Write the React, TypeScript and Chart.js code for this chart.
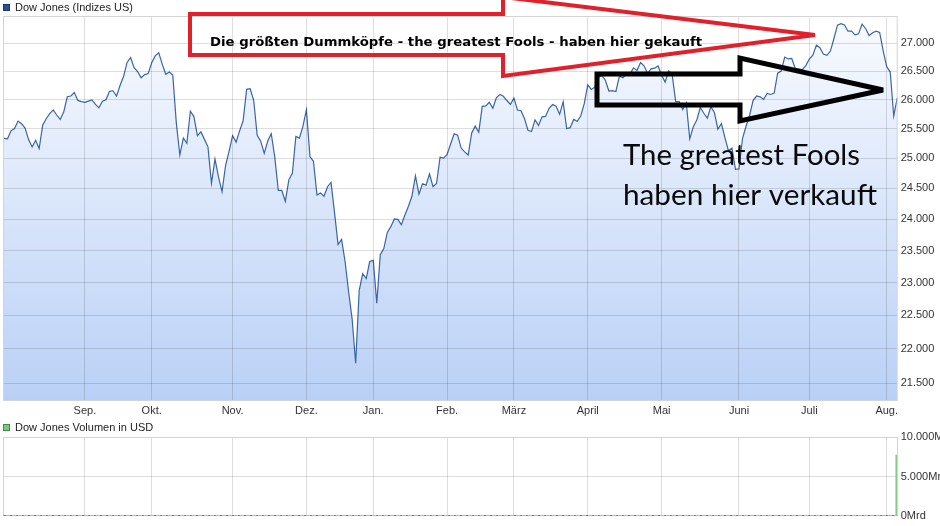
import React, { useEffect, useRef } from "react";
import { Chart, registerables } from "chart.js";

Chart.register(...registerables);

// Dow Jones daily closes, 1 Aug 2018 – 6 Aug 2019 (one value per trading day)
const closes: number[] = [
  // Aug 2018
  25334, 25326, 25463, 25502, 25629, 25584, 25509, 25313, 25188, 25300, 25162, 25559,
  25669, 25759, 25822, 25734, 25657, 25790, 26050, 26064, 26125, 25987, 25965,
  // Sep 2018
  25952, 25975, 25996, 25917, 25857, 25971, 25999, 26146, 26155, 26062, 26247, 26406,
  26657, 26744, 26562, 26492, 26385, 26440, 26458,
  // Oct 2018
  26651, 26774, 26828, 26627, 26447, 26487, 26431, 25599, 25053, 25340, 25251, 25798,
  25707, 25379, 25444, 25317, 25191, 24583, 24985, 24688, 24443, 24875, 25116,
  // Nov 2018
  25381, 25271, 25462, 25635, 26180, 26191, 25989, 25387, 25286, 25081, 25289, 25413,
  25017, 24466, 24465, 24286, 24640, 24749, 25366, 25339, 25538,
  // Dec 2018
  25826, 25027, 24948, 24389, 24423, 24370, 24527, 24597, 24101, 23593, 23676, 23324,
  22860, 22445, 21792, 22878, 23139, 23062, 23327,
  // Jan 2019
  23346, 22686, 23433, 23531, 23787, 23879, 24002, 23996, 23910, 24066, 24207, 24370,
  24706, 24404, 24576, 24553, 24737, 24528, 24580, 25015, 25000,
  // Feb 2019
  25064, 25239, 25412, 25390, 25170, 25106, 25053, 25426, 25543, 25439, 25883, 25891,
  25954, 25851, 26032, 26092, 26058, 25985, 25916,
  // Mar 2019
  26026, 25820, 25807, 25673, 25473, 25450, 25651, 25555, 25703, 25710, 25849, 25914,
  25887, 25746, 25963, 25502, 25517, 25658, 25626, 25717, 25929,
  // Apr 2019
  26258, 26179, 26218, 26385, 26425, 26341, 26151, 26157, 26143, 26412, 26385, 26453,
  26450, 26560, 26511, 26656, 26597, 26462, 26543, 26554, 26593,
  // May 2019
  26430, 26308, 26505, 26438, 25965, 25967, 25828, 25942, 25325, 25532, 25648, 25863,
  25764, 25680, 25877, 25777, 25490, 25586, 25348, 25126, 25170, 24815,
  // Jun 2019
  24820, 25332, 25540, 25721, 25984, 26063, 26049, 26005, 26107, 26090, 26113, 26466,
  26504, 26753, 26719, 26728, 26548, 26537, 26527, 26600,
  // Jul 2019
  26717, 26787, 26966, 26922, 26806, 26783, 26860, 27088, 27332, 27359, 27336, 27220,
  27223, 27154, 27172, 27349, 27270, 27141, 27192, 27221, 27198, 26864,
  // Aug 2019
  26583, 26485, 25718, 26030,
];

// trading-day index of the first session of each month
const monthStarts = [23, 42, 65, 86, 105, 126, 145, 166, 187, 209, 229, 251];
const monthLabels = ["Sep.", "Okt.", "Nov.", "Dez.", "Jan.", "Feb.", "März", "April", "Mai", "Juni", "Juli", "Aug."];

const priceTicks = [21500, 22000, 22500, 23000, 23500, 24000, 24500, 25000, 25500, 26000, 26500, 27000];

// turnover (Mrd USD) – only the latest session is reported
const volumeDays = [254];
const volumeMrd = [7.7];
const volumeTicks = [0, 5, 10];

const X_MIN = -0.28;
const X_MAX = 254.13;
const Y_MIN = 21246;
const Y_MAX = 27499;

const LABEL_FONT = '"Liberation Sans", Arial, sans-serif';
const GRID = "rgba(0,0,0,0.13)";
const FRAME = "#d4d4d4";
const AXIS_W = 42.3;

function deThousands(v: number): string {
  if (v < 1000) return String(v);
  const k = Math.floor(v / 1000);
  const r = Math.round(v % 1000);
  return `${k}.${String(r).padStart(3, "0")}`;
}

function legendPlugin(id: string, text: string, fill: string, stroke: string, cy: number) {
  return {
    id,
    afterDraw(chart: any) {
      const ctx = chart.ctx as CanvasRenderingContext2D;
      ctx.save();
      ctx.fillStyle = fill;
      ctx.fillRect(3, cy - 3.5, 7, 7);
      ctx.strokeStyle = stroke;
      ctx.lineWidth = 1;
      ctx.strokeRect(3.5, cy - 3, 6, 6);
      ctx.fillStyle = "#222";
      ctx.font = `11px ${LABEL_FONT}`;
      ctx.textBaseline = "middle";
      ctx.fillText(text, 15, cy + 0.5);
      ctx.restore();
    },
  };
}

const priceFrame = {
  id: "priceFrame",
  afterDraw(chart: any) {
    const { left, right, top, bottom } = chart.chartArea;
    const ctx = chart.ctx as CanvasRenderingContext2D;
    ctx.save();
    ctx.strokeStyle = FRAME;
    ctx.lineWidth = 1;
    ctx.strokeRect(Math.round(left) + 0.5, Math.round(top) + 0.5, right - left - 1, bottom - top - 1);
    ctx.restore();
  },
};

function poly(ctx: CanvasRenderingContext2D, pts: number[][]) {
  ctx.beginPath();
  pts.forEach(([x, y], i) => (i === 0 ? ctx.moveTo(x, y) : ctx.lineTo(x, y)));
  ctx.closePath();
  ctx.stroke();
}

function fitText(ctx: CanvasRenderingContext2D, text: string, x: number, y: number, width: number) {
  const w = ctx.measureText(text).width;
  ctx.save();
  ctx.translate(x, y);
  ctx.scale(width / w, 1);
  ctx.fillText(text, 0, 0);
  ctx.restore();
}

// callout arrows and captions over the price panel
const callouts = {
  id: "callouts",
  afterDraw(chart: any) {
    const ctx = chart.ctx as CanvasRenderingContext2D;
    ctx.save();
    ctx.lineJoin = "miter";
    ctx.miterLimit = 2;

    ctx.strokeStyle = "#e0212b";
    ctx.lineWidth = 4;
    poly(ctx, [[190, 14], [503, 14], [503, -3], [815, 35], [503, 76], [503, 55], [190, 55]]);

    ctx.strokeStyle = "#000";
    ctx.lineWidth = 5;
    poly(ctx, [[597, 74], [740, 74], [740, 58], [883, 90], [740, 121], [740, 105], [597, 105]]);

    ctx.fillStyle = "#000";
    ctx.textBaseline = "alphabetic";
    ctx.font = 'bold 13px "DejaVu Sans", sans-serif';
    fitText(ctx, "Die größten Dummköpfe - the greatest Fools - haben hier gekauft", 210, 45.5, 492);

    ctx.fillStyle = "#0a0a0a";
    ctx.font = '28px Lato, "Open Sans", sans-serif';
    fitText(ctx, "The greatest Fools", 623, 165, 237);
    fitText(ctx, "haben hier verkauft", 623, 205, 254);
    ctx.restore();
  },
};

const volumeFrame = {
  id: "volumeFrame",
  afterDraw(chart: any) {
    const { left, right, top, bottom } = chart.chartArea;
    const ctx = chart.ctx as CanvasRenderingContext2D;
    ctx.save();
    ctx.strokeStyle = FRAME;
    ctx.lineWidth = 1;
    const l = Math.round(left) + 0.5;
    const r = Math.round(right) - 0.5;
    const t = Math.round(top) + 0.5;
    const b = Math.round(bottom) - 0.5;
    ctx.beginPath();
    ctx.moveTo(l, b);
    ctx.lineTo(l, t);
    ctx.lineTo(r, t);
    ctx.lineTo(r, b);
    ctx.stroke();
    ctx.setLineDash([3, 3]);
    ctx.strokeStyle = "#c0604a";
    ctx.beginPath();
    ctx.moveTo(l, b);
    ctx.lineTo(r, b);
    ctx.stroke();
    ctx.strokeStyle = "#8ccf8c";
    ctx.lineDashOffset = 3;
    ctx.beginPath();
    ctx.moveTo(l, b);
    ctx.lineTo(r, b);
    ctx.stroke();
    ctx.restore();
  },
};

function monthTicks(scale: any) {
  scale.ticks = monthStarts.map((v) => ({ value: v }));
}

export default function App() {
  const priceRef = useRef<HTMLCanvasElement>(null);
  const volRef = useRef<HTMLCanvasElement>(null);

  useEffect(() => {
    Chart.defaults.font.family = LABEL_FONT;
    Chart.defaults.font.size = 11;
    Chart.defaults.color = "#333";

    const price = new Chart(priceRef.current as HTMLCanvasElement, {
      type: "line",
      data: {
        datasets: [
          {
            data: closes.map((v, i) => ({ x: i, y: v })),
            borderColor: "#3a65a7",
            borderWidth: 1.2,
            pointRadius: 0,
            tension: 0,
            fill: "start",
            backgroundColor: (c: any) => {
              const area = c.chart.chartArea;
              if (!area) return "rgba(0,0,0,0)";
              const g = c.chart.ctx.createLinearGradient(0, area.top, 0, area.bottom);
              g.addColorStop(0, "rgb(249,251,255)");
              g.addColorStop(1, "rgb(185,208,246)");
              return g;
            },
          },
        ],
      },
      options: {
        animation: false,
        responsive: false,
        devicePixelRatio: 1,
        layout: { padding: { left: 3, top: 16, right: 0, bottom: 0 } },
        plugins: { legend: { display: false }, tooltip: { enabled: false } },
        scales: {
          x: {
            type: "linear",
            min: X_MIN,
            max: X_MAX,
            afterBuildTicks: monthTicks,
            afterFit: (s: any) => {
              s.height = 19;
            },
            grid: { color: GRID, drawTicks: false, z: 1 },
            border: { display: false },
            ticks: {
              autoSkip: false,
              maxRotation: 0,
              padding: 3,
              color: "#333",
              callback: (_v: any, i: number) => monthLabels[i],
            },
          },
          y: {
            type: "logarithmic",
            position: "right",
            min: Y_MIN,
            max: Y_MAX,
            bounds: "data",
            afterBuildTicks: (s: any) => {
              s.ticks = priceTicks.map((v) => ({ value: v }));
            },
            afterFit: (s: any) => {
              s.width = AXIS_W;
            },
            grid: { color: GRID, drawTicks: false, z: 1 },
            border: { display: false },
            ticks: {
              autoSkip: false,
              padding: 3,
              color: "#333",
              callback: (v: any) => deThousands(Number(v)),
            },
          },
        },
      },
      plugins: [priceFrame, legendPlugin("priceLegend", "Dow Jones (Indizes US)", "#2a4f9b", "#1b3670", 7.5), callouts],
    } as any);

    const volume = new Chart(volRef.current as HTMLCanvasElement, {
      type: "bar",
      data: {
        datasets: [
          {
            data: volumeDays.map((d, i) => ({ x: d, y: volumeMrd[i] })),
            backgroundColor: "#86cc86",
            barThickness: 3,
          },
        ],
      },
      options: {
        animation: false,
        responsive: false,
        devicePixelRatio: 1,
        layout: { padding: { left: 3, top: 17, right: 0, bottom: 10 } },
        plugins: { legend: { display: false }, tooltip: { enabled: false } },
        scales: {
          x: {
            type: "linear",
            min: X_MIN,
            max: X_MAX,
            offset: false,
            afterBuildTicks: monthTicks,
            afterFit: (s: any) => {
              s.height = 0;
            },
            grid: { color: GRID, drawTicks: false, offset: false },
            border: { display: false },
            ticks: { display: false, autoSkip: false },
          },
          y: {
            position: "right",
            min: 0,
            max: 10,
            afterBuildTicks: (s: any) => {
              s.ticks = volumeTicks.map((v) => ({ value: v }));
            },
            afterFit: (s: any) => {
              s.width = AXIS_W;
            },
            grid: {
              color: (c: any) => (c.tick && c.tick.value === 0 ? "rgba(0,0,0,0)" : GRID),
              drawTicks: false,
            },
            border: { display: false },
            ticks: {
              autoSkip: false,
              padding: 3,
              color: "#333",
              callback: (v: any) => (Number(v) === 0 ? "0Mrd" : `${deThousands(Number(v) * 1000)}Mrd`),
            },
          },
        },
      },
      plugins: [volumeFrame, legendPlugin("volumeLegend", "Dow Jones Volumen in USD", "#7cc87c", "#3f8f3f", 7.5)],
    } as any);

    return () => {
      price.destroy();
      volume.destroy();
    };
  }, []);

  return (
    <div style={{ position: "absolute", left: 0, top: 0, width: 940, height: 526, background: "#fff" }}>
      <canvas ref={priceRef} width={940} height={420} style={{ display: "block", width: 940, height: 420 }} />
      <canvas ref={volRef} width={940} height={106} style={{ display: "block", width: 940, height: 106 }} />
    </div>
  );
}
